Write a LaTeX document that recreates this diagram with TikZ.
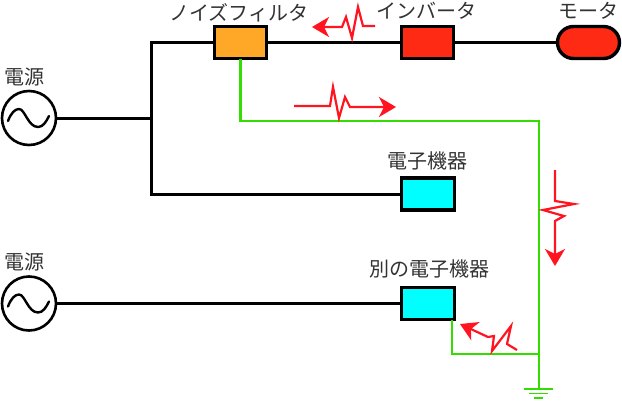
\documentclass[tikz,border=0pt]{standalone}
\usepackage{fontspec}
\setmainfont{Noto Sans CJK JP}
\usetikzlibrary{arrows.meta,shapes.misc}
\definecolor{gnd}{HTML}{33DD00}
\definecolor{noise}{HTML}{FF1420}
\definecolor{fillred}{HTML}{FF2A14}
\definecolor{fillorange}{HTML}{FFA726}
\definecolor{fillcyan}{HTML}{00FFFF}
\tikzset{
 box/.style={draw=black,line width=3.4pt,minimum width=52.5pt,minimum height=32pt,inner sep=0pt,outer sep=0pt},
 src/.style={draw=black,line width=2.6pt,circle,minimum size=54pt,inner sep=0pt,outer sep=0pt},
 lab/.style={inner sep=0pt,text=black!80,font=\fontsize{20pt}{20pt}\selectfont},
 bus/.style={draw=black,line width=3pt},
 gline/.style={draw=gnd,line width=2.4pt},
 nz/.style={draw=noise,line width=2.2pt,-{Stealth[length=17pt,width=20pt,inset=5pt]}},
 sine/.style={line width=2.4pt,line cap=round}
}
\begin{document}
\begin{tikzpicture}[x=1pt,y=-1pt]
\useasboundingbox (0,0) rectangle (622,400);
% nodes
\node[src] (s1) at (29,118) {};
\node[src] (s2) at (29,303.5) {};
\node[box,fill=fillorange] (nf) at (240.5,42.5) {};
\node[box,fill=fillred] (inv) at (427.5,42.5) {};
\node[box,fill=fillred,rounded rectangle,minimum width=62pt] (mot) at (588.5,42.5) {};
\node[box,fill=fillcyan] (e1) at (428,194) {};
\node[box,fill=fillcyan] (e2) at (428,303.5) {};
% source symbols
\draw[sine] (8,121) .. controls (11,113) and (15,109) .. (19,109) .. controls (25,109) and (28,127) .. (38,127) .. controls (43,127) and (46,122) .. (49,116);
\draw[sine] (8,306.5) .. controls (11,298.5) and (15,294.5) .. (19,294.5) .. controls (25,294.5) and (28,312.5) .. (38,312.5) .. controls (43,312.5) and (46,307.5) .. (49,301.5);
% coordinates
\coordinate (j1) at (151,118);
\coordinate (t) at (151,42.5);
\coordinate (b) at (151,194);
\coordinate (g1) at (240.5,121);
\coordinate (g2) at (539,121);
\coordinate (g3) at (539,354);
\coordinate (g4) at (452,354);
\coordinate (gt) at (539,389);
\coordinate (g5) at (452,320);
% black wires
\draw[bus] (s1.east) -- (j1);
\draw[bus,line cap=square] (nf.west) -- (t) -- (b) -- (e1.west);
\draw[bus] (nf.east) -- (inv.west);
\draw[bus] (inv.east) -- (mot.west);
\draw[bus] (s2.east) -- (e2.west);
% green wires
\draw[gline] (nf.south) -- (g1) -- (g2) -- (gt);
\draw[gline] (g5) -- (g4) -- (g3);
\coordinate (ga1) at (524,389); \coordinate (gb1) at (553,389);
\coordinate (ga2) at (529,393.5); \coordinate (gb2) at (548,393.5);
\coordinate (ga3) at (534,398); \coordinate (gb3) at (543,398);
\draw[gline] (ga1) -- (gb1);
\draw[gline,line width=1.8pt] (ga2) -- (gb2);
\draw[gline,line width=1.8pt] (ga3) -- (gb3);
% noise
\draw[nz] (375,26) -- (363,26) -- (358,7) -- (352,38) -- (346,17) -- (342,27) -- (312,27);
\draw[nz] (294,106) -- (330,106) -- (333,87) -- (339,118) -- (345,97) -- (350,107) -- (396,107);
\draw[nz] (555,170) -- (555,201) -- (574,204) -- (543,210) -- (564,216) -- (555,221) -- (555,266);
\draw[nz] (517,350) -- (507,344) -- (511,326) -- (492,351) -- (494,336) -- (488,337) -- (460,324);
% labels
\node[lab] (l1) at (239,13) {ノイズフィルタ};
\node[lab] (l2) at (426,11) {インバータ};
\node[lab] (l3) at (588,11) {モータ};
\node[lab] (l4) at (25,77) {電源};
\node[lab] (l5) at (25,262) {電源};
\node[lab] (l6) at (427,161) {電子機器};
\node[lab] (l7) at (429.5,269) {別の電子機器};
\end{tikzpicture}
\end{document}
